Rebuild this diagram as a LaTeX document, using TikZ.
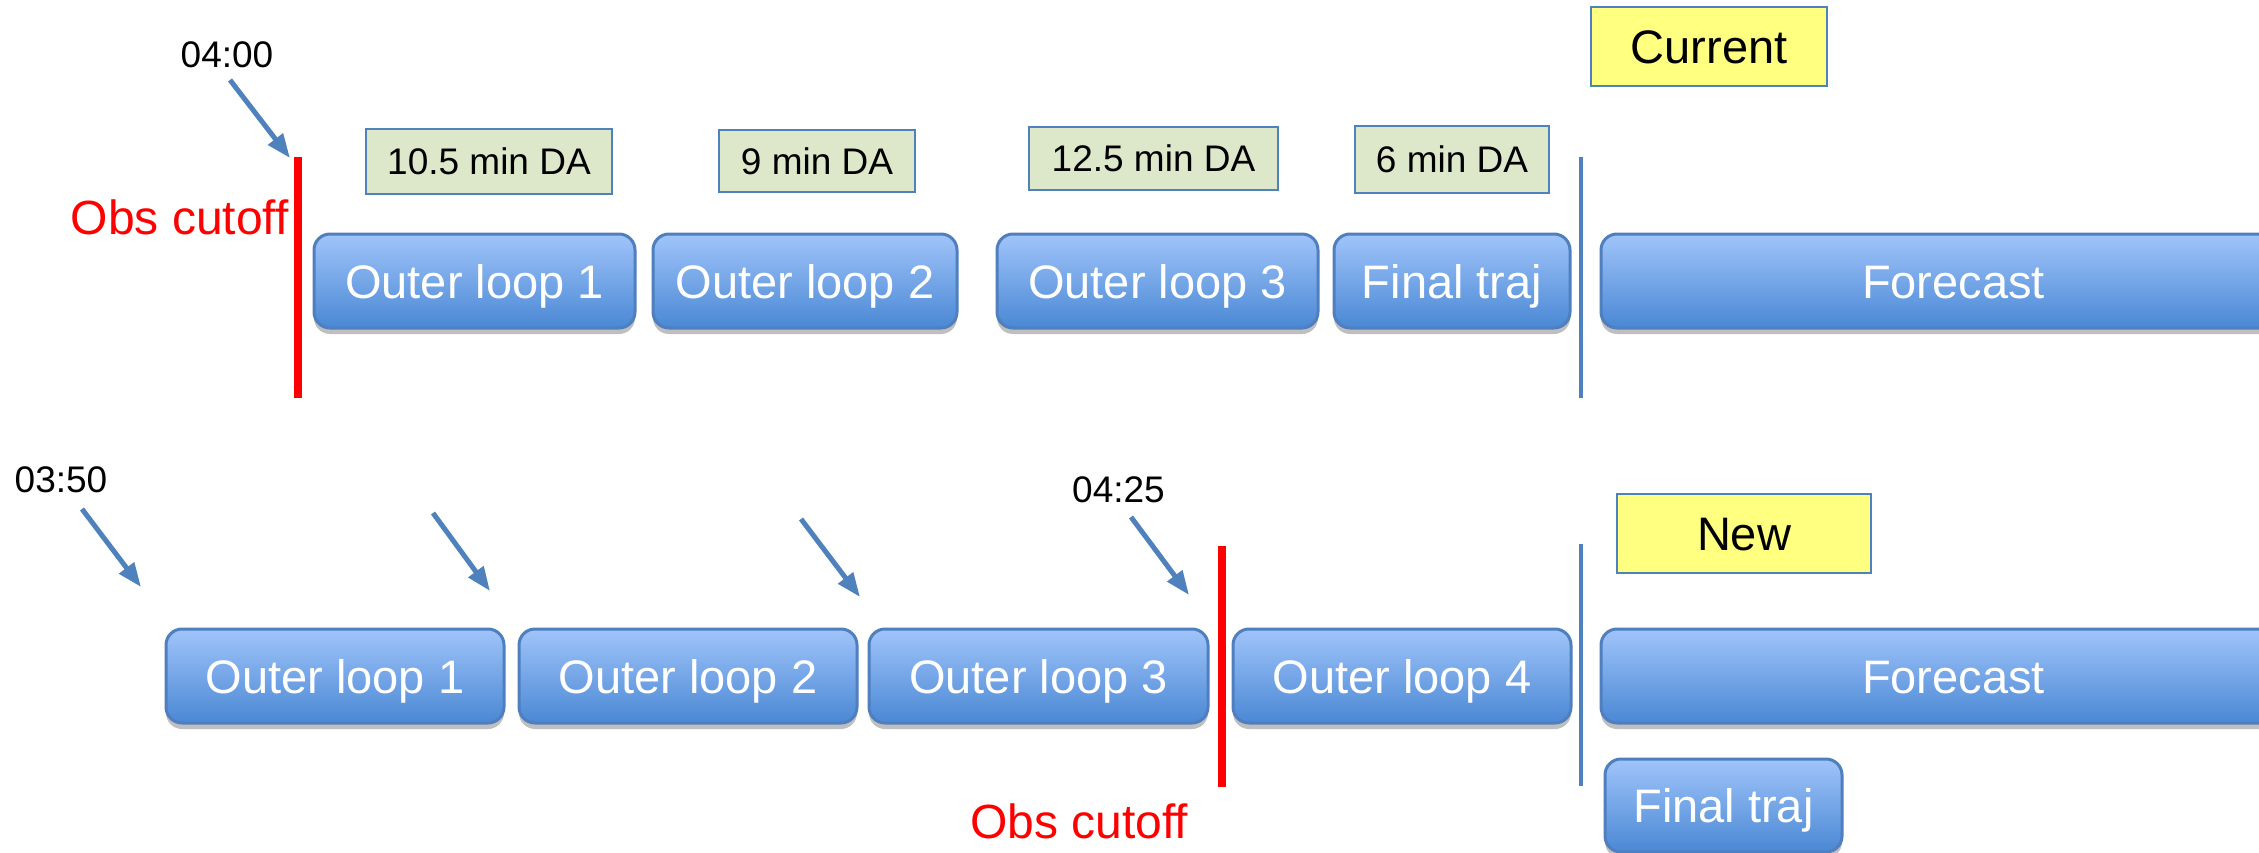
\documentclass[tikz,border=0pt]{standalone}
\usepackage{fontspec}
\setmainfont{Liberation Sans}
\usetikzlibrary{arrows.meta,shadows}
\definecolor{boxtop}{HTML}{A0C4FA}
\definecolor{boxbot}{HTML}{4A88D4}
\definecolor{boxedge}{HTML}{4F7FBE}
\definecolor{dafill}{HTML}{DDE7C9}
\definecolor{yelfill}{HTML}{FFFF80}
\definecolor{arrowblue}{HTML}{4F81BD}
\definecolor{cutred}{HTML}{FF0000}
\begin{document}
\begin{tikzpicture}[x=1pt,y=-1pt,
  stagebox/.style={draw=boxedge, line width=3pt, rounded corners=16pt,
    top color=boxtop, bottom color=boxbot, text=white,
    font=\fontsize{47}{50}\selectfont, inner sep=0pt, minimum height=94pt,
    text height=34pt, text depth=0pt,
    drop shadow={shadow xshift=0pt, shadow yshift=-6pt, opacity=0.25, fill=black}},
  datag/.style={draw=arrowblue, line width=2.5pt, fill=dafill, text=black,
    font=\fontsize{37}{40}\selectfont, inner sep=0pt, text height=27pt, text depth=0pt},
  yeltag/.style={draw=arrowblue, line width=2.5pt, fill=yelfill, text=black,
    font=\fontsize{47}{50}\selectfont, inner sep=0pt, minimum height=79pt,
    text height=34pt, text depth=0pt},
  timelab/.style={text=black, font=\fontsize{37}{40}\selectfont, inner sep=0pt},
  cutlab/.style={text=cutred, font=\fontsize{48}{50}\selectfont, inner sep=0pt},
  cutline/.style={draw=cutred, line width=8pt},
  splitline/.style={draw=arrowblue, line width=4pt},
  timearrow/.style={draw=arrowblue, line width=5pt, -{Triangle[length=24pt,width=18pt]}}
]
\path[use as bounding box] (0,0) rectangle (2259,853);
\clip (0,0) rectangle (2259,853);

% ---------- Current ----------
\node[yeltag, minimum width=236pt] (cur) at (1709,46.5) {Current};

\node[datag, minimum width=246pt, minimum height=65pt] (da1) at (489,161.5) {10.5 min DA};
\node[datag, minimum width=196pt, minimum height=62pt] (da2) at (817,161) {9 min DA};
\node[datag, minimum width=249pt, minimum height=63pt] (da3) at (1153.5,158.5) {12.5 min DA};
\node[datag, minimum width=194pt, minimum height=67pt] (da4) at (1452,159.5) {6 min DA};

\node[stagebox, minimum width=321pt] (t1) at (474.5,281) {Outer loop 1};
\node[stagebox, minimum width=304pt] (t2) at (805,281) {Outer loop 2};
\node[stagebox, minimum width=321pt] (t3) at (1157.5,281) {Outer loop 3};
\node[stagebox, minimum width=236pt] (tft) at (1452,281) {Final traj};
\node[stagebox, minimum width=705pt] (tfc) at (1953.5,281) {Forecast};

\coordinate (rt1) at (298,157);
\coordinate (rt2) at (298,398);
\path[cutline] (rt1) -- (rt2);
\coordinate (bt1) at (1581,157);
\coordinate (bt2) at (1581,398);
\path[splitline] (bt1) -- (bt2);

\node[timelab, anchor=base] (l0400) at (227,68) {04:00};
\node[cutlab, anchor=base east] (cut1) at (289,235) {Obs cutoff};
\coordinate (a0s) at (230,80);
\coordinate (a0e) at (290,158);
\draw[timearrow] (a0s) -- (a0e);

% ---------- New ----------
\node[yeltag, minimum width=254pt] (new) at (1744,533.5) {New};

\node[stagebox, minimum width=338pt] (b1) at (335,676) {Outer loop 1};
\node[stagebox, minimum width=338pt] (b2) at (688,676) {Outer loop 2};
\node[stagebox, minimum width=339pt] (b3) at (1038.5,676) {Outer loop 3};
\node[stagebox, minimum width=338pt] (b4) at (1402,676) {Outer loop 4};
\node[stagebox, minimum width=705pt] (bfc) at (1953.5,676) {Forecast};
\node[stagebox, minimum width=237pt, minimum height=93pt] (bft) at (1723.5,805.5) {Final traj};

\coordinate (rb1) at (1222,546);
\coordinate (rb2) at (1222,787);
\path[cutline] (rb1) -- (rb2);
\coordinate (bb1) at (1581,544);
\coordinate (bb2) at (1581,786);
\path[splitline] (bb1) -- (bb2);

\node[timelab, anchor=base] (l0350) at (61,492) {03:50};
\node[timelab, anchor=base] (l0425) at (1118.5,502) {04:25};
\node[cutlab, anchor=base] (cut2) at (1079,838) {Obs cutoff};

\coordinate (a1s) at (82,509);   \coordinate (a1e) at (141,587);
\coordinate (a2s) at (433,513);  \coordinate (a2e) at (490,591);
\coordinate (a3s) at (801,519);  \coordinate (a3e) at (860,597);
\coordinate (a4s) at (1131,517); \coordinate (a4e) at (1189,595);
\draw[timearrow] (a1s) -- (a1e);
\draw[timearrow] (a2s) -- (a2e);
\draw[timearrow] (a3s) -- (a3e);
\draw[timearrow] (a4s) -- (a4e);
\end{tikzpicture}
\end{document}
